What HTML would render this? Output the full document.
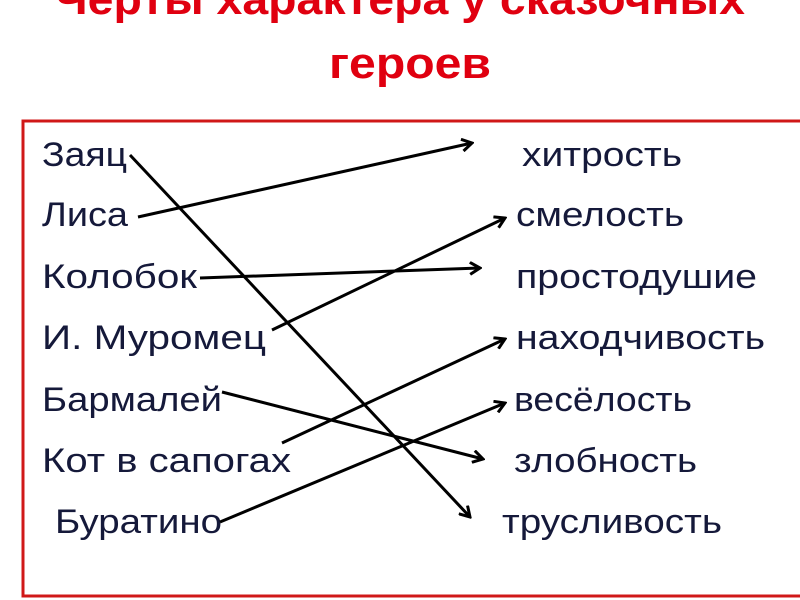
<!DOCTYPE html>
<html><head><meta charset="utf-8"><style>
html,body{margin:0;padding:0;background:#fff;width:800px;height:600px;overflow:hidden}
svg{display:block}
</style></head><body>
<svg width="800" height="600" xmlns="http://www.w3.org/2000/svg">
<defs><marker id="a" markerWidth="14" markerHeight="14" refX="12" refY="7" orient="auto" markerUnits="userSpaceOnUse">
<path d="M2,1 L12,7 L2,13" fill="none" stroke="#000" stroke-width="3"/></marker></defs>
<g font-family="Liberation Sans, sans-serif" font-weight="bold" fill="#e00010" font-size="44">
<text x="400" y="14" text-anchor="middle" textLength="690" lengthAdjust="spacingAndGlyphs">Черты характера у сказочных</text>
<text x="410" y="78" text-anchor="middle" textLength="162" lengthAdjust="spacingAndGlyphs">героев</text>
</g>
<rect x="23" y="121" width="790" height="475" fill="none" stroke="#d01818" stroke-width="3"/>
<g font-family="Liberation Sans, sans-serif" fill="#15193a" font-size="34">
<text x="42" y="166" textLength="85" lengthAdjust="spacingAndGlyphs">Заяц</text>
<text x="42" y="226" textLength="86" lengthAdjust="spacingAndGlyphs">Лиса</text>
<text x="42" y="288" textLength="155" lengthAdjust="spacingAndGlyphs">Колобок</text>
<text x="42" y="349" textLength="224" lengthAdjust="spacingAndGlyphs">И. Муромец</text>
<text x="42" y="411" textLength="180" lengthAdjust="spacingAndGlyphs">Бармалей</text>
<text x="42" y="472" textLength="249" lengthAdjust="spacingAndGlyphs">Кот в  сапогах</text>
<text x="55" y="533" textLength="167" lengthAdjust="spacingAndGlyphs">Буратино</text>
<text x="522" y="166" textLength="160" lengthAdjust="spacingAndGlyphs">хитрость</text>
<text x="516" y="226" textLength="168" lengthAdjust="spacingAndGlyphs">смелость</text>
<text x="516" y="288" textLength="241" lengthAdjust="spacingAndGlyphs">простодушие</text>
<text x="516" y="349" textLength="249" lengthAdjust="spacingAndGlyphs">находчивость</text>
<text x="514" y="411" textLength="178" lengthAdjust="spacingAndGlyphs">весёлость</text>
<text x="514" y="472" textLength="183" lengthAdjust="spacingAndGlyphs">злобность</text>
<text x="502" y="533" textLength="220" lengthAdjust="spacingAndGlyphs">трусливость</text>
</g>
<g stroke="#000" stroke-width="3" fill="none" marker-end="url(#a)">
<line x1="130" y1="155" x2="470" y2="517"/>
<line x1="138" y1="217" x2="472" y2="143"/>
<line x1="200" y1="278" x2="480" y2="268"/>
<line x1="272" y1="330" x2="505" y2="218"/>
<line x1="222" y1="392" x2="483" y2="459"/>
<line x1="282" y1="443" x2="505" y2="339"/>
<line x1="220" y1="522" x2="505" y2="403"/>
</g>
</svg>
</body></html>
